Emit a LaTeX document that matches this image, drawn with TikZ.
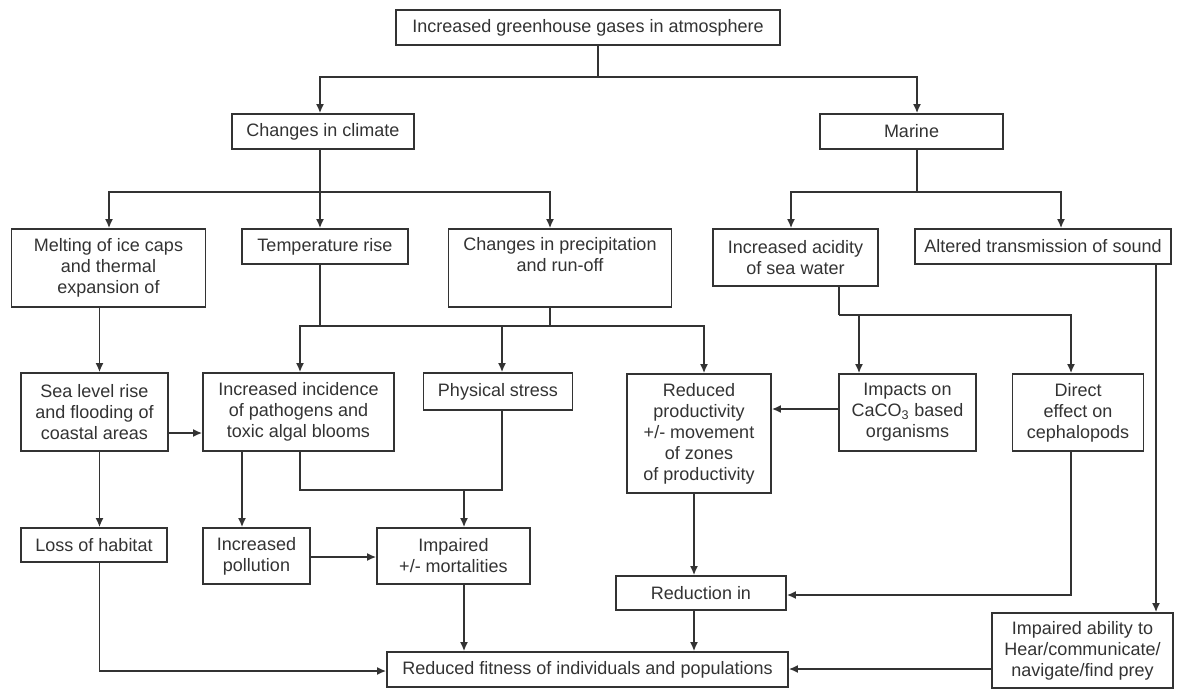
\documentclass[tikz,border=0pt]{standalone}
\usepackage{fontspec}
\setmainfont{Liberation Sans}
\usetikzlibrary{arrows.meta}
\definecolor{linec}{HTML}{333333}
\definecolor{textc}{HTML}{333333}
\begin{document}
\begin{tikzpicture}[x=1pt,y=-1pt,
  box/.style={draw=linec, line width=1.7pt, inner sep=0pt, align=center, text=textc,
    font=\fontsize{18}{21}\selectfont},
  conn/.style={draw=linec, line width=1.7pt},
  arr/.style={conn, -{Latex[length=9pt,width=8pt]}}]
\fill[white] (0,0) rectangle (1177,689);
\useasboundingbox (0,0) rectangle (1177,689);

% nodes
\node[box, minimum width=384pt, minimum height=35pt] (top) at (588,27.5) {Increased greenhouse gases in atmosphere};
\node[box, minimum width=182pt, minimum height=35pt] (climate) at (323,131.5) {Changes in climate};
\node[box, minimum width=183pt, minimum height=35pt] (marine) at (911.5,131.5) {Marine};
\node[box, minimum width=194pt, minimum height=78pt] (melt) at (108.5,268) {Melting of ice caps\\and thermal\\expansion of};
\node[box, minimum width=166pt, minimum height=35pt] (temp) at (325,246.5) {Temperature rise};
\node[box, minimum width=223pt, minimum height=78pt] (precip) at (560,268) {Changes in precipitation\\and run-off\\\strut};
\node[box, minimum width=165pt, minimum height=57pt] (acid) at (795.5,257.5) {Increased acidity\\of sea water};
\node[box, minimum width=256pt, minimum height=35pt] (alter) at (1043,246.5) {Altered transmission of sound};
\node[box, minimum width=147pt, minimum height=78pt] (sea) at (94.5,412) {Sea level rise\\and flooding of\\coastal areas};
\node[box, minimum width=191pt, minimum height=78pt] (incid) at (298.5,412) {Increased incidence\\of pathogens and\\toxic algal blooms};
\node[box, minimum width=149pt, minimum height=37pt] (phys) at (498,391.5) {Physical stress};
\node[box, minimum width=144pt, minimum height=119pt] (redprod) at (699,433.5) {Reduced\\productivity\\+/- movement\\of zones\\of productivity};
\node[box, minimum width=137pt, minimum height=77pt] (impacts) at (907.5,412.5) {Impacts on\\CaCO\textsubscript{3} based\\organisms};
\node[box, minimum width=131pt, minimum height=77pt] (direct) at (1078,412.5) {Direct\\effect on\\cephalopods};
\node[box, minimum width=146pt, minimum height=34pt] (loss) at (94,545) {Loss of habitat};
\node[box, minimum width=107pt, minimum height=56pt] (poll) at (256.5,556) {Increased\\pollution};
\node[box, minimum width=153pt, minimum height=56pt] (impaired) at (453.5,556) {Impaired\\+/- mortalities};
\node[box, minimum width=170pt, minimum height=34pt] (reduc) at (701,593) {Reduction in};
\node[box, minimum width=401pt, minimum height=35pt] (fit) at (587.5,669.5) {Reduced fitness of individuals and populations};
\node[box, minimum width=181pt, minimum height=75pt] (ability) at (1082.5,650.5) {Impaired ability to\\Hear/communicate/\\navigate/find prey};

% helper coordinates
\coordinate (x99) at (99.5,0);
\coordinate (x109) at (109,0);
\coordinate (x242) at (242,0);
\coordinate (x300) at (300,0);
\coordinate (x320) at (320,0);
\coordinate (x464) at (464,0);
\coordinate (x502) at (502,0);
\coordinate (x550) at (550,0);
\coordinate (x694) at (694,0);
\coordinate (x704) at (704,0);
\coordinate (x791) at (791,0);
\coordinate (x859) at (859,0);
\coordinate (x917) at (917,0);
\coordinate (x1061) at (1061,0);
\coordinate (x1071) at (1071,0);
\coordinate (x1156) at (1156,0);
\coordinate (y409) at (0,409);
\coordinate (y433) at (0,433);
\coordinate (y557) at (0,557);
\coordinate (y669) at (0,669);

% top level
\coordinate (j1) at (598,77);
\draw[conn] (top.south -| j1) -- (j1);
\draw[arr] (j1) -| (climate.north -| x320);
\draw[arr] (j1) -| (marine.north -| x917);

% climate branch
\coordinate (j2) at (320,192);
\draw[conn] (climate.south -| j2) -- (j2);
\draw[arr] (j2) -| (melt.north -| x109);
\draw[arr] (j2) -- (temp.north -| j2);
\draw[arr] (j2) -| (precip.north -| x550);

% marine branch
\coordinate (j3) at (917,192);
\draw[conn] (marine.south -| j3) -- (j3);
\draw[arr] (j3) -| (acid.north -| x791);
\draw[arr] (j3) -| (alter.north -| x1061);

% temperature / precipitation
\coordinate (j4) at (320,326);
\coordinate (j5) at (550,326);
\draw[conn] (temp.south -| j4) -- (j4);
\draw[conn] (precip.south -| j5) -- (j5);
\draw[conn] (j4) -- (j5);
\draw[arr] (j5) -| (redprod.north -| x704);
\draw[arr] (j4) -| (incid.north -| x300);
\draw[arr] (j4 -| x502) -- (phys.north -| x502);

% acidity
\coordinate (j6) at (839,315);
\draw[conn] (acid.south -| j6) -- (j6);
\draw[arr] (j6) -| (direct.north -| x1071);
\draw[arr] (j6 -| x859) -- (impacts.north -| x859);

% left column
\draw[arr] (melt.south -| x99) -- (sea.north -| x99);
\draw[arr] (sea.east |- y433) -- (incid.west |- y433);
\draw[arr] (sea.south -| x99) -- (loss.north -| x99);
\draw[arr] (incid.south -| x242) -- (poll.north -| x242);
\coordinate (j7) at (300,490);
\coordinate (j8) at (502,490);
\draw[conn] (incid.south -| j7) -- (j7) -- (j8) -- (phys.south -| j8);
\draw[arr] (j7 -| x464) -- (impaired.north -| x464);
\draw[arr] (poll.east |- y557) -- (impaired.west |- y557);

% right part
\draw[arr] (impacts.west |- y409) -- (redprod.east |- y409);
\draw[arr] (redprod.south -| x694) -- (reduc.north -| x694);
\coordinate (j9) at (1071,595);
\draw[arr] (direct.south -| j9) -- (j9) -- (reduc.east |- j9);
\draw[arr] (alter.south -| x1156) -- (ability.north -| x1156);

% bottom
\coordinate (j10) at (99.5,671);
\draw[arr] (loss.south -| j10) |- (fit.west |- j10);
\draw[arr] (impaired.south -| x464) -- (fit.north -| x464);
\draw[arr] (reduc.south -| x694) -- (fit.north -| x694);
\draw[arr] (ability.west |- y669) -- (fit.east |- y669);
\end{tikzpicture}
\end{document}
